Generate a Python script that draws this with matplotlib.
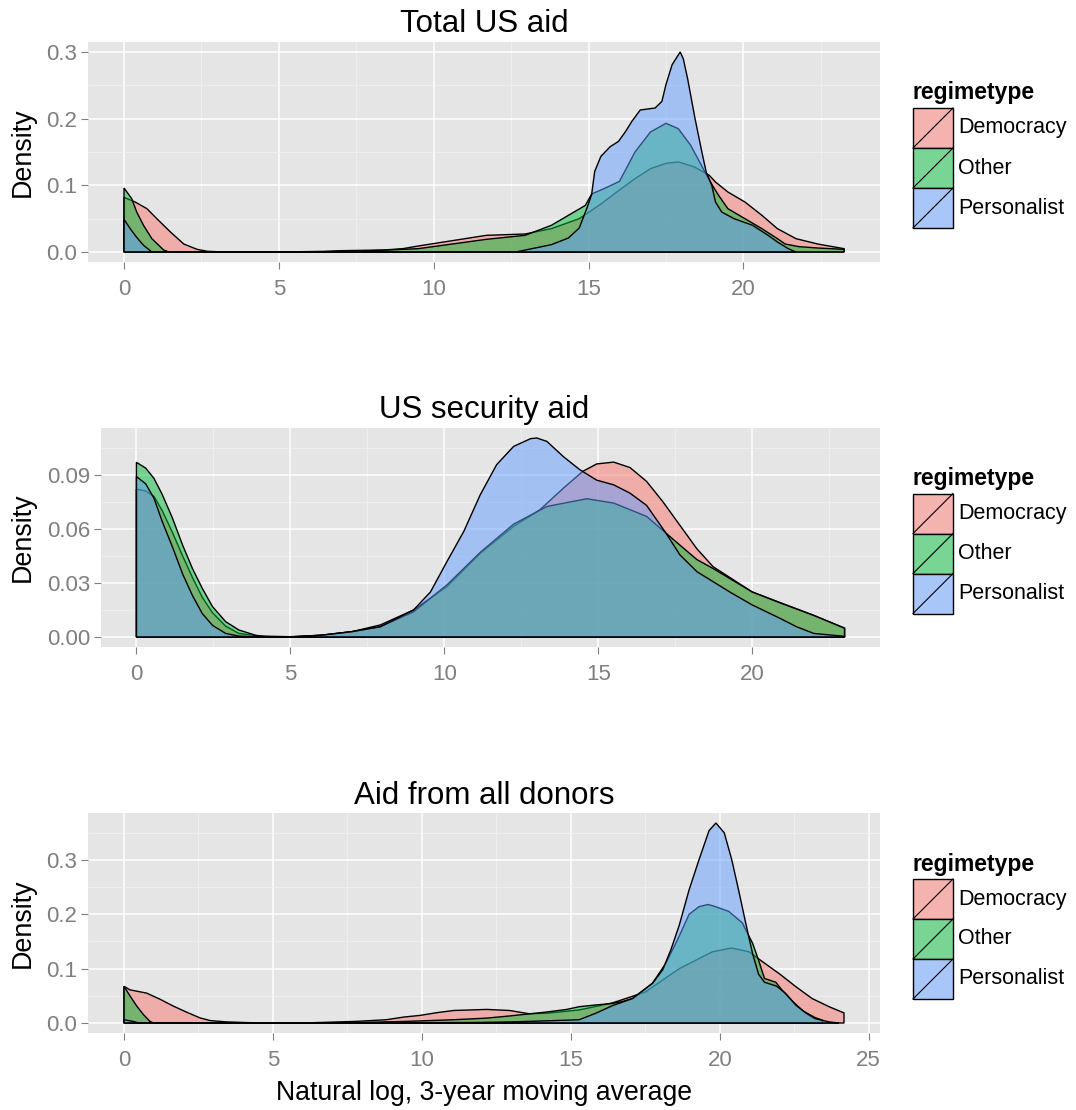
import matplotlib
matplotlib.use("Agg")
import matplotlib.pyplot as plt
from matplotlib.patches import Rectangle

plt.rcParams['font.family'] = ['Liberation Sans', 'DejaVu Sans']

# ---------------- data ----------------
groups = ["Democracy", "Other", "Personalist"]
group_colors = ["#F8766D", "#00BA38", "#619CFF"]
panel_titles = ["Total US aid", "US security aid", "Aid from all donors"]
x_label = "Natural log, 3-year moving average"
y_label = "Density"
legend_title = "regimetype"

# Panel 1: Total US aid
tot_dem_x = [0, 0.36, 0.74, 1.06, 1.5, 1.93, 2.36, 2.7, 3.1, 5.0, 6.5, 7.0, 8.4, 9.0, 9.5, 10.6, 11.7,
             12.95, 13.8, 14.7, 15.4, 16.0, 16.5, 17.0, 17.5, 17.9, 18.4, 18.9, 19.1, 19.5, 20.05, 20.6,
             21.1, 21.7, 22.4, 23.25]
tot_dem_y = [0.082, 0.075, 0.065, 0.05, 0.03, 0.012, 0.004, 0.001, 0.0003, 0.0, 0.001, 0.002, 0.003,
             0.005, 0.009, 0.017, 0.025, 0.027, 0.035, 0.05, 0.072, 0.093, 0.11, 0.125, 0.133, 0.135,
             0.128, 0.115, 0.105, 0.09, 0.075, 0.055, 0.035, 0.02, 0.012, 0.005]
tot_oth_x = [0, 0.25, 0.41, 0.63, 0.9, 1.28, 1.45, 3.0, 6.0, 8.0, 9.5, 10.6, 11.7, 12.95, 13.8, 14.35,
             14.9, 15.1, 15.5, 16.0, 16.5, 17.0, 17.5, 17.9, 18.3, 18.76, 19.0, 19.2, 19.5, 20.05, 20.6,
             21.1, 21.35, 21.8, 22.4, 23.25]
tot_oth_y = [0.096, 0.08, 0.06, 0.04, 0.02, 0.003, 0.0, 0.0, 0.0, 0.002, 0.005, 0.012, 0.019, 0.025,
             0.04, 0.055, 0.07, 0.087, 0.095, 0.106, 0.15, 0.18, 0.193, 0.185, 0.16, 0.12, 0.1, 0.085,
             0.065, 0.05, 0.035, 0.02, 0.012, 0.008, 0.006, 0.004]
tot_per_x = [0, 0.2, 0.41, 0.63, 0.85, 0.9, 5.0, 12.0, 12.7, 13.8, 14.35, 14.7, 14.95, 15.1, 15.2, 15.4,
             15.7, 15.97, 16.2, 16.4, 16.67, 17.15, 17.37, 17.5, 17.7, 17.96, 18.06, 18.2, 18.44, 18.66,
             18.8, 18.98, 19.1, 19.3, 19.7, 20.3, 20.8, 21.1, 21.45, 21.7]
tot_per_y = [0.049, 0.035, 0.022, 0.01, 0.002, 0.0, 0.0, 0.0, 0.0005, 0.011, 0.021, 0.036, 0.066, 0.086,
             0.121, 0.1435, 0.158, 0.166, 0.181, 0.196, 0.213, 0.216, 0.226, 0.251, 0.281, 0.30, 0.29,
             0.26, 0.2, 0.15, 0.12, 0.1, 0.075, 0.06, 0.05, 0.04, 0.025, 0.015, 0.005, 0.0]

# Panel 2: US security aid
sec_dem_x = [0, 0.3, 0.57, 0.84, 1.17, 1.5, 1.82, 2.14, 2.47, 2.9, 3.33, 4.0, 5.0, 6.0, 7.0, 7.92, 9.0,
             10.09, 11.17, 12.25, 13.1, 13.87, 14.5, 14.95, 15.5, 16.03, 16.57, 17.1, 17.65, 18.2,
             18.73, 20.0, 22.0, 23.0]
sec_dem_y = [0.082, 0.081, 0.078, 0.07, 0.058, 0.045, 0.033, 0.022, 0.0135, 0.006, 0.002, 0.0005, 0.0002,
             0.001, 0.003, 0.0067, 0.015, 0.028, 0.0465, 0.0613, 0.0705, 0.0826, 0.0919, 0.096, 0.097,
             0.094, 0.0863, 0.075, 0.062, 0.049, 0.039, 0.025, 0.012, 0.0048]
sec_oth_x = [0, 0.3, 0.57, 0.84, 1.17, 1.5, 1.82, 2.14, 2.47, 2.9, 3.33, 3.87, 4.2, 5.0, 6.0, 7.0, 7.92,
             9.0, 10.09, 11.17, 12.25, 13.33, 14.63, 15.5, 16.57, 17.2, 17.65, 18.2, 18.73, 20.0, 20.9,
             22.0, 23.0]
sec_oth_y = [0.0969, 0.0937, 0.088, 0.079, 0.066, 0.051, 0.038, 0.027, 0.0169, 0.0085, 0.0039, 0.001,
             0.0003, 0.0001, 0.001, 0.003, 0.0057, 0.014, 0.029, 0.047, 0.0626, 0.0724, 0.0767, 0.0743,
             0.0669, 0.0576, 0.051, 0.043, 0.038, 0.025, 0.019, 0.012, 0.005]
sec_per_x = [0, 0.3, 0.57, 0.84, 1.17, 1.5, 1.82, 2.14, 2.47, 2.9, 3.33, 4.0, 5.0, 6.0, 7.0, 7.92, 9.0,
             9.55, 10.09, 10.63, 11.17, 11.7, 12.25, 12.8, 13.0, 13.33, 13.87, 14.4, 14.95, 15.5, 16.03,
             16.57, 17.2, 17.65, 18.2, 18.73, 19.27, 20.0, 20.9, 21.44, 22.0, 23.0]
sec_per_y = [0.089, 0.085, 0.077, 0.064, 0.05, 0.035, 0.023, 0.013, 0.0065, 0.002, 0.0005, 0.0, 0.0,
             0.001, 0.003, 0.0057, 0.015, 0.025, 0.042, 0.0585, 0.079, 0.0956, 0.1057, 0.11, 0.1104,
             0.1085, 0.1, 0.0928, 0.087, 0.0844, 0.0798, 0.073, 0.0576, 0.0456, 0.0363, 0.0307, 0.025,
             0.0178, 0.0104, 0.0057, 0.002, 0.0004]

# Panel 3: Aid from all donors
all_dem_x = [0, 0.2, 0.76, 1.2, 1.66, 2.1, 2.55, 2.9, 3.45, 4.3, 6.0, 7.8, 8.8, 9.4, 9.94, 10.5, 11.06,
             12.18, 12.95, 13.6, 14.2, 15.28, 16.4, 17.5, 18.64, 19.75, 20.4, 20.98, 21.43, 21.99, 22.55,
             23.1, 23.67, 24.17]
all_dem_y = [0.0675, 0.061, 0.055, 0.044, 0.031, 0.02, 0.0094, 0.0044, 0.002, 0.0005, 0.0, 0.003, 0.006,
             0.011, 0.014, 0.019, 0.023, 0.025, 0.023, 0.017, 0.018, 0.024, 0.037, 0.057, 0.1, 0.131,
             0.138, 0.131, 0.113, 0.091, 0.067, 0.045, 0.03, 0.0185]
all_oth_x = [0, 0.2, 0.43, 0.65, 0.87, 1.0, 3.0, 6.0, 8.0, 9.5, 11.06, 12.18, 12.95, 14.16, 14.86, 15.28,
             15.8, 16.4, 16.76, 17.07, 17.74, 18.19, 18.64, 18.97, 19.3, 19.6, 19.75, 20.3, 20.76, 20.93,
             21.1, 21.3, 21.5, 21.88, 22.1, 22.44, 22.8, 23.2, 23.45]
all_oth_y = [0.0675, 0.05, 0.031, 0.0156, 0.003, 0.0, 0.0, 0.0, 0.001, 0.003, 0.006, 0.009, 0.013, 0.02,
             0.025, 0.03, 0.033, 0.036, 0.04, 0.045, 0.073, 0.11, 0.16, 0.2, 0.214, 0.218, 0.216, 0.2055,
             0.184, 0.165, 0.147, 0.116, 0.082, 0.075, 0.06, 0.04, 0.022, 0.01, 0.005]
all_per_x = [0, 0.3, 0.5, 3.0, 8.0, 11.9, 13.0, 14.2, 15.28, 15.84, 16.4, 17.07, 17.74, 18.08, 18.36,
             18.64, 18.97, 19.3, 19.64, 19.87, 20.15, 20.4, 20.65, 20.87, 21.1, 21.3, 21.5, 21.9, 22.2,
             22.55, 22.9, 23.2, 23.67, 24.0]
all_per_y = [0.006, 0.003, 0.0, 0.0, 0.0, 0.001, 0.002, 0.004, 0.006, 0.018, 0.032, 0.045, 0.073, 0.0975,
             0.135, 0.18, 0.245, 0.3, 0.354, 0.368, 0.35, 0.301, 0.24, 0.184, 0.128, 0.09, 0.075, 0.068,
             0.055, 0.033, 0.018, 0.008, 0.002, 0.0]

panel_series = [
    [(tot_dem_x, tot_dem_y), (tot_oth_x, tot_oth_y), (tot_per_x, tot_per_y)],
    [(sec_dem_x, sec_dem_y), (sec_oth_x, sec_oth_y), (sec_per_x, sec_per_y)],
    [(all_dem_x, all_dem_y), (all_oth_x, all_oth_y), (all_per_x, all_per_y)],
]
y_ticks = [[0.0, 0.1, 0.2, 0.3], [0.00, 0.03, 0.06, 0.09], [0.0, 0.1, 0.2, 0.3]]
y_ticklabels = [["0.0", "0.1", "0.2", "0.3"], ["0.00", "0.03", "0.06", "0.09"], ["0.0", "0.1", "0.2", "0.3"]]
x_ticks = [[0, 5, 10, 15, 20], [0, 5, 10, 15, 20], [0, 5, 10, 15, 20, 25]]

# ---------------- layout (pixels) ----------------
W, H = 1076, 1110
fig = plt.figure(figsize=(W / 100, H / 100), dpi=100)
fig.patch.set_facecolor("white")

panel_boxes = [(88, 42, 880, 262), (101, 428, 880, 647), (88, 813, 880, 1033)]
title_y = [24, 410, 796]

def rect(x0, y0, x1, y1):
    return [x0 / W, 1 - y1 / H, (x1 - x0) / W, (y1 - y0) / H]

GRAY_TXT = "#7F7F7F"

for i, (box, series) in enumerate(zip(panel_boxes, panel_series)):
    ax = fig.add_axes(rect(*box))
    ax.set_facecolor("#E5E5E5")
    for (xs, ys), col in zip(series, group_colors):
        px = [xs[0]] + list(xs) + [xs[-1]]
        py = [0.0] + list(ys) + [0.0]
        ax.fill(px, py, facecolor=matplotlib.colors.to_rgba(col, 0.5), edgecolor="black",
                linewidth=1.0, zorder=3)
    xt = x_ticks[i]
    step = xt[1] - xt[0]
    yt = y_ticks[i]
    ystep = yt[1] - yt[0]
    ax.set_xticks(xt)
    ax.set_xticklabels([str(t) for t in xt])
    ax.set_yticks(yt)
    ax.set_yticklabels(y_ticklabels[i])
    ax.set_xticks([t + step / 2 for t in xt] + [xt[0] - step / 2], minor=True)
    ax.set_yticks([t + ystep / 2 for t in yt] + [yt[0] - ystep / 2], minor=True)
    xmin = min(min(s[0]) for s in series)
    xmax = max(max(s[0]) for s in series)
    ymax = max(max(s[1]) for s in series)
    xr = xmax - xmin
    ax.set_xlim(xmin - 0.05 * xr, xmax + 0.05 * xr)
    ax.set_ylim(-0.05 * ymax, ymax * 1.05)
    ax.grid(which="major", color="white", linewidth=1.1, zorder=1)
    ax.grid(which="minor", color="#F2F2F2", linewidth=0.5, zorder=1)
    ax.set_axisbelow(True)
    for sp in ax.spines.values():
        sp.set_visible(False)
    ax.tick_params(which="major", length=5, width=0.8, color=GRAY_TXT, labelcolor=GRAY_TXT,
                   labelsize=16)
    ax.tick_params(axis="x", which="major", pad=7)
    ax.tick_params(axis="y", which="major", pad=3)
    ax.tick_params(which="minor", length=0)

overlay = fig.add_axes([0, 0, 1, 1])
overlay.set_xlim(0, W)
overlay.set_ylim(H, 0)
overlay.axis("off")
overlay.patch.set_alpha(0)

for i, box in enumerate(panel_boxes):
    x0, y0, x1, y1 = box
    cy = (y0 + y1) / 2
    overlay.text(484, title_y[i], panel_titles[i], ha="center", va="center", fontsize=22.5, color="black")
    overlay.text(23, cy, y_label, ha="center", va="center", rotation=90, fontsize=19.4, color="black")
    # legend
    overlay.text(913, cy - 59, legend_title, ha="left", va="center", fontsize=16.5,
                 fontweight="bold", color="black")
    for k, (g, col) in enumerate(zip(groups, group_colors)):
        ky = cy - 44 + 40 * k
        overlay.add_patch(Rectangle((913, ky), 40, 40, facecolor="#F2F2F2", edgecolor="none"))
        overlay.add_patch(Rectangle((913, ky), 40, 40, facecolor=matplotlib.colors.to_rgba(col, 0.5),
                                    edgecolor="black", linewidth=1.0))
        overlay.plot([913, 953], [ky + 40, ky], color="black", linewidth=0.8)
        overlay.text(958, ky + 20, g, ha="left", va="center", fontsize=15.5, color="black")

overlay.text(484, 1093, x_label, ha="center", va="center", fontsize=19.2, color="black")

fig.savefig("out.png", dpi=100)
